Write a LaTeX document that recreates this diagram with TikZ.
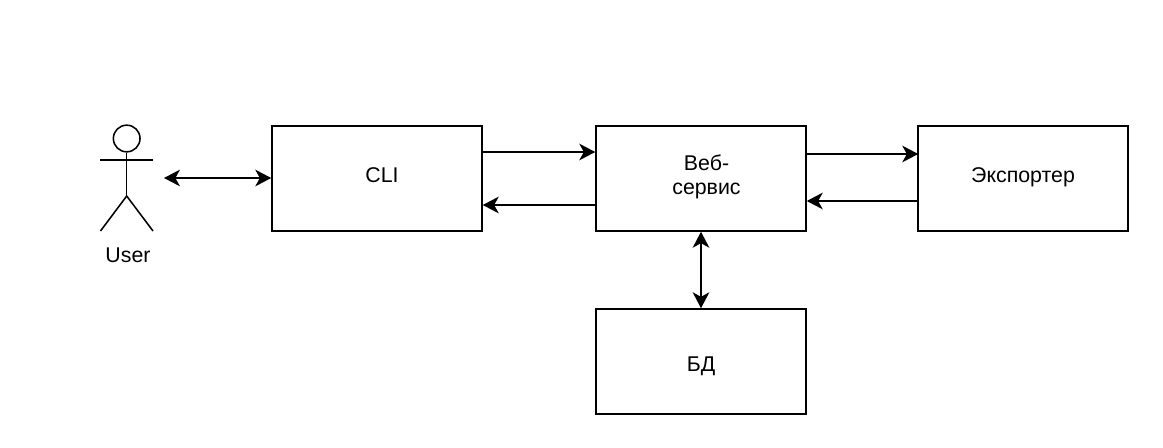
\documentclass[tikz,border=0pt]{standalone}
\usepackage{fontspec}
\setmainfont{Liberation Sans}
\usetikzlibrary{calc,arrows.meta}

\tikzset{
  box/.style={draw,rectangle,minimum width=157.5pt,minimum height=78.75pt,inner sep=0pt},
  txt/.style={font=\fontsize{16pt}{18pt}\selectfont,align=center,inner sep=0pt},
  link/.style={-{Stealth[length=12pt,width=12.5pt,inset=3.5pt]}},
  biglink/.style={{Stealth[length=12pt,width=12.5pt,inset=3.5pt]}-{Stealth[length=12pt,width=12.5pt,inset=3.5pt]}}
}

\begin{document}
\begin{tikzpicture}[x=.75pt,y=-.75pt,line width=1.15pt]
      \useasboundingbox (0,0) rectangle (1163,447);

      \node (cli) at (377,178.5) [box] {};
      \node (web) at (701,178.5) [box] {};
      \node (exp) at (1023,178.5) [box] {};
      \node (db) at (701,361.5) [box] {};

      \node (clitxt) at (382,175.5) [txt] {CLI};
      \node (webtxt) at (706.5,177) [txt] {Веб-\\сервис};
      \node (exptxt) at (1023,177) [txt] {Экспортер};
      \node (dbtxt) at (701,366) [txt] {БД};

      % user figure
      \node (head) at (126.7,138.5) [draw,circle,minimum size=20pt,inner sep=0pt] {};
      \coordinate (hip) at (126.7,196);
      \coordinate (armL) at (100,160);
      \coordinate (armR) at (153,160);
      \coordinate (legL) at (100.5,231);
      \coordinate (legR) at (153,231);
      \coordinate (port) at (164,178);
      \node (usertxt) at (128,255) [txt] {User};
      \draw (head.south) -- (hip);
      \draw (armL) -- (armR);
      \draw (legL) -- (hip) -- (legR);

      \path[biglink] (port) edge ($(cli.west)+(0,-.5)$);
      \path[link] ($(cli.east)+(0,-26.5)$) edge ($(web.west)+(0,-26.5)$);
      \path[link] ($(web.west)+(0,26.5)$) edge ($(cli.east)+(0,26.5)$);
      \path[link] ($(web.east)+(0,-24.5)$) edge ($(exp.west)+(1,-24.5)$);
      \path[link] ($(exp.west)+(0,22.5)$) edge ($(web.east)+(0,22.5)$);
      \path[biglink] (web.south) edge (db.north);

    \end{tikzpicture}
\end{document}
